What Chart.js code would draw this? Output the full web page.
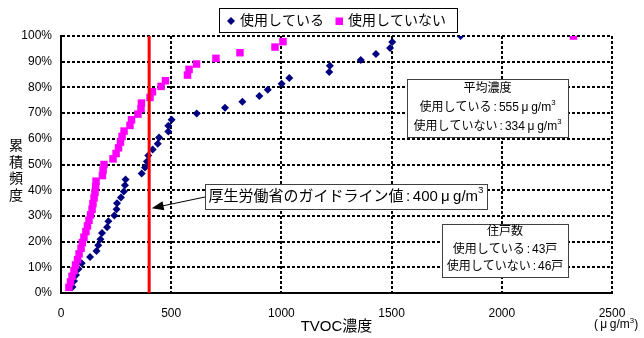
<!DOCTYPE html>
<html><head><meta charset="utf-8">
<script src="https://cdn.jsdelivr.net/npm/chart.js@4/dist/chart.umd.min.js"></script>
<style>html,body{margin:0;padding:0;background:#fff;}#wrap{width:644px;height:338px;}</style>
</head><body><div id="wrap"><canvas id="c" width="644" height="338"></canvas></div>
<script>
// ---- data ----
const seriesNames = ['使用している', '使用していない'];
const usedX = [52,59,68,79,94,132,161,169,179,186,209,215,242,252,254,272,285,290,293,366,381,390,396,416,439,445,487,487,502,616,744,823,900,938,1001,1036,1217,1220,1360,1429,1493,1503,1813];
const usedY = [2.3,4.7,7.0,9.3,11.6,14.0,16.3,18.6,20.9,23.3,25.6,27.9,30.2,32.6,34.9,37.2,39.5,41.9,44.2,46.5,48.8,51.2,53.5,55.8,58.1,60.5,62.8,65.1,67.4,69.8,72.1,74.4,76.7,79.1,81.4,83.7,86.0,88.4,90.7,93.0,95.3,97.7,100];
const notUsedX = [36,43,50,59,66,75,82,91,97,104,113,120,127,134,141,145,150,154,157,159,188,191,195,236,250,261,270,277,286,313,320,349,363,365,404,415,454,474,574,581,615,703,812,971,1007,2325];
const notUsedY = [2.2,4.3,6.5,8.7,10.9,13.0,15.2,17.4,19.6,21.7,23.9,26.1,28.3,30.4,32.6,34.8,37.0,39.1,41.3,43.5,45.7,47.8,50.0,52.2,54.3,56.5,58.7,60.9,63.0,65.2,67.4,69.6,71.7,73.9,76.1,78.3,80.4,82.6,84.8,87.0,89.1,91.3,93.5,95.7,97.8,100];
const guidelineX = [400, 400];
const guidelineY = [0, 100];
const arrowTargetY = 33;
const xTickValues = [0, 500, 1000, 1500, 2000, 2500];
const yTickValues = [0, 10, 20, 30, 40, 50, 60, 70, 80, 90, 100];
const xTitle = 'TVOC濃度';
const yTitle = '累積頻度';
const avgTitle = '平均濃度';
const avgValues = [555, 334];
const houseTitle = '住戸数';
const houseCounts = [43, 46];
const guidelineLabel = '厚生労働省のガイドライン値';
const guidelineValue = 400;
const unitMu = 'μ', unitRest = 'g/m', unitSup = '3';

const FONT = '"Liberation Sans", "Noto Sans CJK JP", sans-serif';

function toPts(xs, ys) { return xs.map((x, i) => ({x: x, y: ys[i]})); }

// parts: {t, sup, pad}
function drawParts(ctx, parts, cx, cy, size) {
  let w = 0;
  parts.forEach(p => {
    ctx.font = (p.sup ? size * 0.65 : size) + 'px ' + FONT;
    p.w = ctx.measureText(p.t).width + 2 * (p.pad || 0); w += p.w;
  });
  let x = cx - w / 2;
  ctx.textBaseline = 'middle'; ctx.textAlign = 'left'; ctx.fillStyle = '#000';
  parts.forEach(p => {
    ctx.font = (p.sup ? size * 0.65 : size) + 'px ' + FONT;
    ctx.fillText(p.t, x + (p.pad || 0), p.sup ? cy - size * 0.38 : cy);
    x += p.w;
  });
}
function valueParts(label, value, size) {
  return [
    {t: label}, {t: ':', pad: size * 0.17}, {t: String(value)},
    {t: unitMu, pad: size * 0.22}, {t: unitRest}, {t: unitSup, sup: true}
  ];
}

function box(ctx, x, y, w, h, color) {
  ctx.save();
  ctx.fillStyle = '#fff'; ctx.fillRect(x, y, w, h);
  ctx.strokeStyle = color; ctx.lineWidth = 1;
  ctx.strokeRect(Math.round(x) + 0.5, Math.round(y) + 0.5, Math.round(w), Math.round(h));
  ctx.restore();
}

const decor = {
  id: 'decor',
  afterDraw(chart) {
    const ctx = chart.ctx;
    const xs = chart.scales.x, ys = chart.scales.y;
    ctx.save();
    // legend
    box(ctx, 219, 8, 238, 24, '#000');
    ctx.fillStyle = '#000080';
    ctx.beginPath(); ctx.moveTo(227, 21); ctx.lineTo(231, 17); ctx.lineTo(235, 21); ctx.lineTo(231, 25); ctx.closePath(); ctx.fill();
    ctx.fillStyle = '#FF00FF'; ctx.fillRect(335.5, 17.5, 7.5, 7.5);
    ctx.fillStyle = '#000'; ctx.font = '14px ' + FONT; ctx.textBaseline = 'middle'; ctx.textAlign = 'left';
    ctx.fillText(seriesNames[0], 240, 21);
    ctx.fillText(seriesNames[1], 348, 21);

    // y title stacked
    ctx.font = '14px ' + FONT; ctx.textAlign = 'center';
    Array.from(yTitle).forEach((c, i) => ctx.fillText(c, 16, 146 + i * 16.7));

    // unit under last x tick
    drawParts(ctx, [{t: '('}, {t: unitMu, pad: 2.5}, {t: unitRest}, {t: unitSup, sup: true}, {t: ')'}], 616, 325, 12);

    // average box
    box(ctx, 407, 79, 161, 58, '#404040');
    drawParts(ctx, [{t: avgTitle}], 487.5, 89, 12);
    drawParts(ctx, valueParts(seriesNames[0], avgValues[0], 12), 487.5, 107.5, 12);
    drawParts(ctx, valueParts(seriesNames[1], avgValues[1], 12), 487.5, 126.5, 12);

    // houses box
    box(ctx, 442, 224, 126, 53, '#404040');
    drawParts(ctx, [{t: houseTitle}], 505, 231.5, 12);
    drawParts(ctx, [{t: seriesNames[0]}, {t: ':', pad: 2}, {t: houseCounts[0] + '戸'}], 505, 249.5, 12);
    drawParts(ctx, [{t: seriesNames[1]}, {t: ':', pad: 2}, {t: houseCounts[1] + '戸'}], 505, 267, 12);

    // guideline box + arrow
    box(ctx, 205, 184, 282, 25, '#404040');
    drawParts(ctx, valueParts(guidelineLabel, guidelineValue, 15), 346, 196.5, 15);
    const tx = xs.getPixelForValue(guidelineX[0]) + 2.5, ty = ys.getPixelForValue(arrowTargetY);
    const sx = 205, sy = 197;
    const ang = Math.atan2(ty - sy, tx - sx);
    ctx.strokeStyle = '#000'; ctx.lineWidth = 1;
    ctx.beginPath(); ctx.moveTo(sx, sy);
    ctx.lineTo(tx - Math.cos(ang) * 10, ty - Math.sin(ang) * 10); ctx.stroke();
    ctx.fillStyle = '#000';
    ctx.beginPath(); ctx.moveTo(tx, ty);
    ctx.lineTo(tx - Math.cos(ang) * 12 + Math.sin(ang) * 4.5, ty - Math.sin(ang) * 12 - Math.cos(ang) * 4.5);
    ctx.lineTo(tx - Math.cos(ang) * 12 - Math.sin(ang) * 4.5, ty - Math.sin(ang) * 12 + Math.cos(ang) * 4.5);
    ctx.closePath(); ctx.fill();
    ctx.restore();
  }
};

new Chart(document.getElementById('c'), {
  type: 'scatter',
  data: {
    datasets: [
      {label: 'guideline', data: toPts(guidelineX, guidelineY), showLine: true, borderColor: '#FF0000', borderWidth: 3, pointRadius: 0, order: 0},
      {label: seriesNames[1], data: toPts(notUsedX, notUsedY), pointStyle: 'rect', pointRadius: 5.3, backgroundColor: '#FF00FF', borderColor: '#FF00FF', borderWidth: 0, order: 1},
      {label: seriesNames[0], data: toPts(usedX, usedY), pointStyle: 'rectRot', pointRadius: 4, backgroundColor: '#000080', borderColor: '#000080', borderWidth: 0, order: 2}
    ]
  },
  options: {
    responsive: false, animation: false, devicePixelRatio: 1,
    layout: {padding: {left: 0, top: 36, right: 32, bottom: 0}},
    plugins: {legend: {display: false}, tooltip: {enabled: false}},
    scales: {
      x: {
        type: 'linear', min: xTickValues[0], max: xTickValues[xTickValues.length - 1],
        afterBuildTicks: s => { s.ticks = xTickValues.map(v => ({value: v})); },
        afterFit: s => { s.height = 45; },
        ticks: {padding: 13, color: '#000', font: {family: FONT, size: 12}, maxRotation: 0, callback: v => String(v)},
        grid: {color: '#000', lineWidth: 2, drawTicks: false},
        border: {display: true, color: '#000', width: 2, dash: [3, 2]},
        title: {display: true, text: xTitle, color: '#000', font: {family: FONT, size: 15}, padding: {top: 0, bottom: 2}}
      },
      y: {
        type: 'linear', min: yTickValues[0], max: yTickValues[yTickValues.length - 1],
        afterBuildTicks: s => { s.ticks = yTickValues.map(v => ({value: v})); },
        afterFit: s => { s.width = 61; },
        ticks: {padding: 9, color: '#000', font: {family: FONT, size: 12}, callback: v => v + '%'},
        grid: {color: '#000', lineWidth: 2, drawTicks: false},
        border: {display: true, color: '#000', width: 2, dash: [3, 2]}
      }
    }
  },
  plugins: [decor]
});
</script></body></html>
